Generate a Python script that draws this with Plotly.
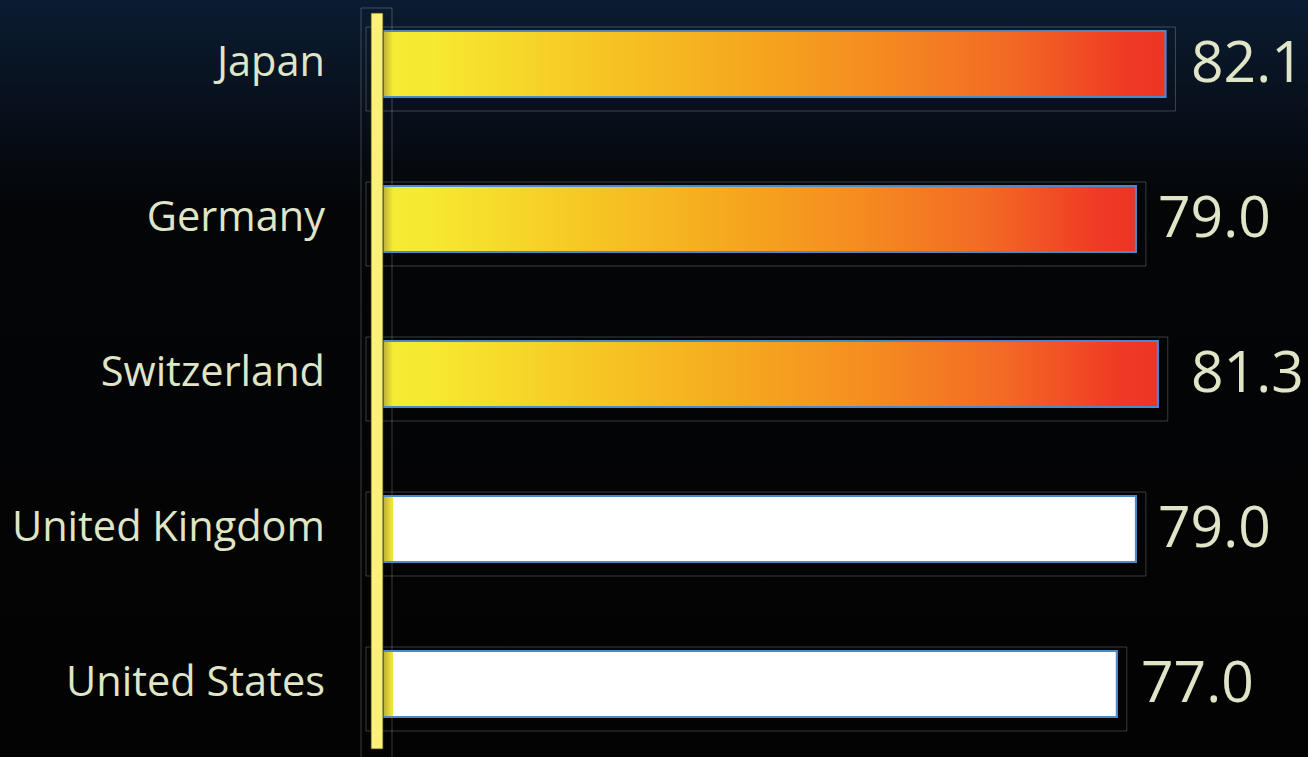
import base64
import plotly.graph_objects as go

# ---------------- data ----------------
countries = ["Japan", "Germany", "Switzerland", "United Kingdom", "United States"]
values = [82.1, 79.0, 81.3, 79.0, 77.0]
highlighted = [True, True, True, False, False]

# ---------------- style constants ----------------
W, H = 1308, 757
PX_PER_UNIT_X = 9.53          # horizontal scale
ZERO_PX = 383                  # pixel of x = 0
ROW_PX = 155                   # pixel per row
TOP_ROW_PX = 64                # pixel centre of first row
X_RANGE = [-ZERO_PX / PX_PER_UNIT_X, (W - ZERO_PX) / PX_PER_UNIT_X]
n = len(countries)
Y_RANGE = [(n - 1) - (H - TOP_ROW_PX) / ROW_PX, (n - 1) + TOP_ROW_PX / ROW_PX]

BAR_HALF = 33 / ROW_PX
FRAME_OFFSET = -47 / ROW_PX
FRAME_WIDTH = 84 / ROW_PX
FRAME_BASE = -17 / PX_PER_UNIT_X
FRAME_PAD = 10 / PX_PER_UNIT_X
SHADOW = 10 / PX_PER_UNIT_X
LABEL_XSHIFT = [24, 20, 31, 20, 22]   # pixel gap between bar end and value label

TEXT = "#DFE5C6"
BLUE = "#4F88C6"
FRAME_COL = "rgba(255,255,255,0.22)"
FONT = "Open Sans"

positions = list(range(n - 1, -1, -1))

fig = go.Figure()

# outer frames (subtle boxes around every bar)
fig.add_trace(go.Bar(
    y=positions,
    x=[v - FRAME_BASE + FRAME_PAD for v in values],
    base=FRAME_BASE,
    orientation="h",
    width=FRAME_WIDTH,
    offset=FRAME_OFFSET,
    marker=dict(color="rgba(0,0,0,0)", line=dict(color=FRAME_COL, width=1)),
    hoverinfo="skip",
    showlegend=False,
))

# main bars
fig.add_trace(go.Bar(
    y=positions,
    x=values,
    orientation="h",
    width=2 * BAR_HALF,
    offset=-BAR_HALF,
    marker=dict(color="white", line=dict(color=BLUE, width=2)),
    hoverinfo="skip",
    showlegend=False,
))

# gradient fills on top of the bars
for p, v, hl in zip(positions, values, highlighted):
    s = SHADOW / v
    if hl:
        cs = [[0, "#B9AD3C"], [s, "#F5EB33"], [0.06, "#F6EA30"],
              [0.25, "#F6CA25"], [0.45, "#F5AA1F"], [0.62, "#F58E20"],
              [0.8, "#F26A25"], [0.95, "#EF3A25"], [1, "#EE3424"]]
    else:
        cs = [[0, "#B9AD3C"], [s * 0.85, "#EFE235"], [s, "#F3E636"],
              [s + 1e-4, "#FFFFFF"], [1, "#FFFFFF"]]
    fig.add_trace(go.Scatter(
        x=[0, v, v, 0, 0],
        y=[p - BAR_HALF, p - BAR_HALF, p + BAR_HALF, p + BAR_HALF, p - BAR_HALF],
        mode="lines",
        fill="toself",
        fillgradient=dict(type="horizontal", colorscale=cs, start=0, stop=v),
        line=dict(color=BLUE, width=2),
        hoverinfo="skip",
        showlegend=False,
    ))

# value labels
for p, v, dx in zip(positions, values, LABEL_XSHIFT):
    fig.add_annotation(
        x=v, y=p, xref="x", yref="y",
        text=f"{v:.1f}", showarrow=False,
        xanchor="left", yanchor="middle", xshift=dx, yshift=4,
        font=dict(family=FONT, size=57, color=TEXT),
    )

# vertical reference line and its frame
LINE_X0, LINE_X1 = -12 / PX_PER_UNIT_X, 0
LINEFRAME_X0, LINEFRAME_X1 = -22 / PX_PER_UNIT_X, 9 / PX_PER_UNIT_X
fig.add_shape(type="rect", xref="x", yref="paper",
              x0=LINEFRAME_X0, x1=LINEFRAME_X1, y0=-0.01, y1=1 - 8 / H,
              line=dict(color=FRAME_COL, width=1), fillcolor="rgba(0,0,0,0)",
              layer="below")
fig.add_shape(type="rect", xref="x", yref="paper",
              x0=LINE_X0, x1=LINE_X1, y0=1 - 749 / H, y1=1 - 13 / H,
              line=dict(color="rgba(60,55,10,0.8)", width=1), fillcolor="#FBF07A",
              layer="above")

# background gradient
svg = ('<svg xmlns="http://www.w3.org/2000/svg" width="100" height="100" '
       'viewBox="0 0 100 100" preserveAspectRatio="none"><defs>'
       '<linearGradient id="g" x1="0" y1="0" x2="0" y2="1">'
       '<stop offset="0" stop-color="#0B1C32"/>'
       '<stop offset="0.13" stop-color="#08111D"/>'
       '<stop offset="0.27" stop-color="#040507"/>'
       '<stop offset="1" stop-color="#030303"/>'
       '</linearGradient></defs><rect width="100" height="100" fill="url(#g)"/></svg>')
uri = "data:image/svg+xml;base64," + base64.b64encode(svg.encode()).decode()

fig.update_layout(
    width=W, height=H,
    margin=dict(l=0, r=0, t=0, b=0),
    paper_bgcolor="#030303",
    plot_bgcolor="rgba(0,0,0,0)",
    barmode="overlay",
    showlegend=False,
    images=[dict(source=uri, xref="paper", yref="paper", x=0, y=1,
                 sizex=1, sizey=1, xanchor="left", yanchor="top",
                 sizing="stretch", layer="below")],
    xaxis=dict(range=X_RANGE, showgrid=False, zeroline=False,
               showticklabels=False, showline=False, ticks="", fixedrange=True),
    yaxis=dict(range=Y_RANGE, showgrid=False, zeroline=False, showline=False,
               ticks="", tickvals=positions, ticktext=countries,
               tickfont=dict(family=FONT, size=41.5, color=TEXT),
               ticklabelshift=-3,
               anchor="free", position=325 / W, automargin=False,
               fixedrange=True),
)

fig.write_html(
    "out.html",
    config={"displayModeBar": False},
    post_script="document.body.style.margin='0';document.body.style.overflow='hidden';",
)
